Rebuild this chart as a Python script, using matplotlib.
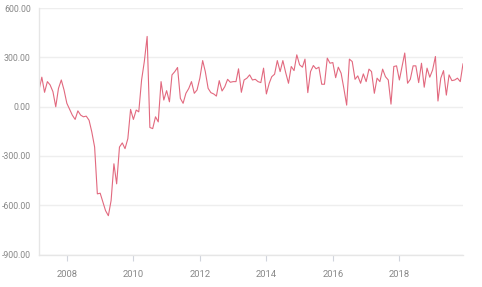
import matplotlib.pyplot as plt
import matplotlib.dates as mdates
from matplotlib.ticker import FuncFormatter
import pandas as pd

plt.rcParams['font.family'] = ['Roboto', 'DejaVu Sans']

# monthly values, Mar 2007 - Dec 2019
values = [
    101, 179, 87, 152, 132, 91, -1, 111, 162, 101,
    20, -17, -52, -78, -26, -52, -62, -58, -83, -154,
    -246, -531, -527, -583, -633, -664, -572, -348, -470, -246,
    -221, -256, -195, -17, -78, -21, -32, 162, 274, 427,
    -127, -134, -62, -93, 152, 40, 97, 29, 193, 213,
    238, 50, 20, 81, 110, 152, 81, 101, 173, 280,
    213, 111, 85, 77, 64, 158, 95, 121, 166, 148,
    152, 152, 230, 87, 162, 173, 193, 162, 166, 152,
    146, 234, 77, 142, 182, 197, 280, 213, 280, 207,
    142, 244, 219, 315, 254, 240, 289, 85, 213, 250,
    230, 240, 136, 136, 295, 264, 268, 176, 240, 203,
    111, 9, 289, 274, 166, 187, 142, 199, 152, 228,
    213, 81, 173, 152, 228, 182, 162, 15, 244, 248,
    162, 248, 326, 142, 166, 248, 248, 146, 264, 118,
    234, 179, 223, 305, 34, 173, 219, 70, 193, 158,
    162, 173, 152, 260,
]
dates = pd.date_range('2007-03-01', periods=len(values), freq='MS')
yticks = [-900, -600, -300, 0, 300, 600]

fig = plt.figure(figsize=(4.82, 2.87), dpi=100)
ax = fig.add_axes([39 / 482, 1 - 254.5 / 287, 424 / 482, 246.5 / 287])

ax.plot(dates, values, color='#e2697f', linewidth=0.8)

ax.set_xlim(dates[0], dates[-1])
ax.set_ylim(-900, 600)
ax.set_yticks(yticks)
ax.yaxis.set_major_formatter(FuncFormatter(lambda v, p: '%.2f' % v))
ax.xaxis.set_major_locator(mdates.YearLocator(2))
ax.xaxis.set_major_formatter(mdates.DateFormatter('%Y'))

ax.grid(axis='y', color='#eeeeee', linewidth=1)
ax.set_axisbelow(True)
for s in ['top', 'right']:
    ax.spines[s].set_visible(False)
for s in ['left', 'bottom']:
    ax.spines[s].set_color('#e6e6e6')
    ax.spines[s].set_linewidth(1)

ax.tick_params(axis='y', length=0, pad=6, labelsize=6.3, labelcolor='#888888')
ax.tick_params(axis='x', length=4, color='#d0d4dc', pad=7, labelsize=6.8, labelcolor='#888888')

fig.savefig('out.png', dpi=100)
